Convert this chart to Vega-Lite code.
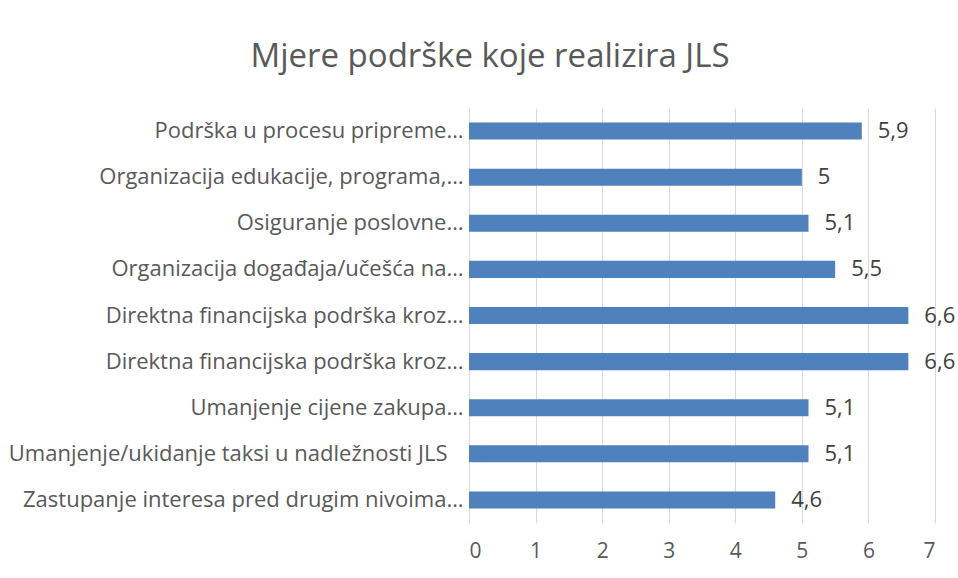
{
  "$schema": "https://vega.github.io/schema/vega-lite/v6.json",
  "width": 466,
  "height": 415,
  "autosize": "none",
  "padding": {"left": 469, "top": 108, "right": 23, "bottom": 55},
  "background": "white",
  "config": {
    "locale": {"number": {"decimal": ",", "thousands": ".", "grouping": [3], "currency": ["", ""]}},
    "view": {"stroke": null},
    "font": "Open Sans"
  },
  "title": {
    "text": "Mjere podrške koje realizira JLS",
    "fontSize": 33,
    "fontWeight": "normal",
    "color": "#595959",
    "font": "Open Sans",
    "anchor": "middle",
    "dx": -212,
    "offset": 34
  },
  "data": {
    "values": [
      {"mjera": "Podrška u procesu pripreme…", "vrijednost": 5.9},
      {"mjera": "Organizacija edukacije, programa,…", "vrijednost": 5.0},
      {"mjera": "Osiguranje poslovne…", "vrijednost": 5.1},
      {"mjera": "Organizacija događaja/učešća na…", "vrijednost": 5.5},
      {"mjera": "Direktna financijska podrška kroz…", "vrijednost": 6.6},
      {"mjera": "Direktna financijska podrška kroz…\u200b", "vrijednost": 6.6},
      {"mjera": "Umanjenje cijene zakupa…", "vrijednost": 5.1},
      {"mjera": "Umanjenje/ukidanje taksi u nadležnosti JLS\u2800", "vrijednost": 5.1},
      {"mjera": "Zastupanje interesa pred drugim nivoima…", "vrijednost": 4.6}
    ]
  },
  "encoding": {
    "y": {
      "field": "mjera",
      "type": "nominal",
      "sort": null,
      "scale": {"paddingInner": 0.63, "paddingOuter": 0.315},
      "axis": {
        "title": null,
        "domainColor": "#d9d9d9",
        "ticks": false,
        "labelFontSize": 22,
        "labelColor": "#595959",
        "labelPadding": 6,
        "labelLimit": 0,
        "labelFont": "Open Sans"
      }
    },
    "x": {
      "field": "vrijednost",
      "type": "quantitative",
      "scale": {"domain": [0, 7], "nice": false},
      "axis": {
        "title": null,
        "values": [0, 1, 2, 3, 4, 5, 6, 7],
        "domain": false,
        "ticks": false,
        "grid": true,
        "gridColor": "#d9d9d9",
        "labelFontSize": 21,
        "labelColor": "#595959",
        "labelPadding": 17,
        "labelFont": "Open Sans"
      }
    }
  },
  "layer": [
    {"mark": {"type": "bar", "color": "#4f81bd"}},
    {
      "mark": {"type": "text", "align": "left", "dx": 16, "fontSize": 22, "color": "#404040", "font": "Open Sans"},
      "encoding": {"text": {"field": "vrijednost", "type": "quantitative", "format": ".2~r"}}
    }
  ]
}
